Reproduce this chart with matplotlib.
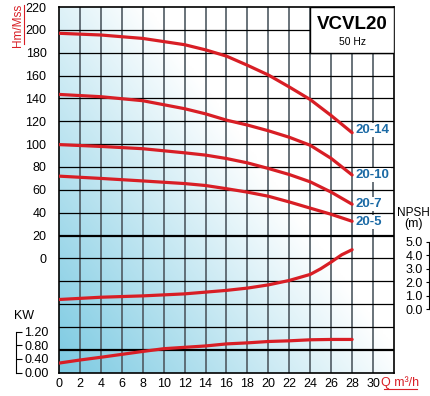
import numpy as np
import matplotlib.pyplot as plt
from matplotlib.patches import Rectangle
from matplotlib.lines import Line2D
from matplotlib.colors import to_rgb

plt.rcParams['font.family'] = ['Liberation Sans', 'DejaVu Sans']

# head curves (Q m3/h -> H m)
q_head = [0, 4, 8, 12, 14, 16, 18, 20, 22, 24, 26, 28]
h_20_14 = [197, 195.5, 192.5, 187, 182.5, 177, 169, 160.5, 150, 139, 125, 110]
h_20_10 = [143.5, 141.5, 138, 131, 126.5, 121, 116.7, 111.7, 106, 99, 87.5, 73]
h_20_7 = [99.6, 98, 96, 92.4, 90.4, 87.4, 83.6, 78.7, 73.4, 67, 58, 47.4]
h_20_5 = [72, 70, 67.8, 65.5, 63.8, 61, 58, 54.4, 49.4, 44, 38.6, 32.5]
models = ['20-14', '20-10', '20-7', '20-5']
label_y = [112, 73, 48, 31.5]

# NPSH curve (m)
q_npsh = [0, 4, 8, 12, 14, 16, 18, 20, 22, 24, 25, 26, 27, 28]
npsh = [0.71, 0.88, 0.98, 1.13, 1.26, 1.39, 1.56, 1.80, 2.13, 2.58, 3.0, 3.5, 4.04, 4.42]

# power curve (kW)
q_kw = [0, 2, 4, 8, 10, 12, 14, 16, 18, 20, 22, 24, 26, 28]
kw = [0.28, 0.37, 0.45, 0.62, 0.70, 0.74, 0.78, 0.84, 0.87, 0.91, 0.93, 0.96, 0.97, 0.97]

x_ticks = list(range(0, 31, 2))
y_ticks = list(range(0, 221, 20))

red = '#d81e25'
blue_txt = '#1b6aa5'

fig = plt.figure(figsize=(4.31, 3.96), dpi=100)
rect = [59/431, (396-372.7)/396, 335/431, 365.7/396]
ax = fig.add_axes(rect)

# background gradient
U, V = np.meshgrid(np.linspace(0, 1, 200), np.linspace(0, 1, 200))
s = np.clip(1 - 0.95*U - 0.75*V, 0, 1)
blue = np.array(to_rgb('#7ccae2'))
img = 1 - s[..., None]*(1 - blue)
ax.imshow(img, extent=(0, 32, -100, 220), origin='lower', aspect='auto',
          zorder=0, interpolation='bilinear')

# grid
for x in range(2, 32, 2):
    ax.axvline(x, color='#4f5a62', lw=1.2, zorder=1)
for y in range(-80, 220, 20):
    lw = 1.6 if y in (20, -80) else 0.9
    ax.axhline(y, color='black', lw=lw, zorder=1)

ax.set_xlim(0, 32)
ax.set_ylim(-100, 220)
ax.set_xticks(x_ticks)
ax.set_yticks(y_ticks)
ax.tick_params(length=0, labelsize=9)
ax.tick_params(axis='y', pad=9)
ax.tick_params(axis='x', pad=4)
for sp in ax.spines.values():
    sp.set_linewidth(1.2)

# title box
ax.add_patch(Rectangle((24, 180), 8, 40, facecolor='white', edgecolor='black',
                       lw=1.0, zorder=3))
ax.text(28, 205, 'VCVL20', fontsize=13.5, fontweight='bold', ha='center',
        va='center', zorder=5)
ax.text(28, 189.5, '50 Hz', fontsize=7.5, ha='center', va='center', zorder=5)

for h in [h_20_14, h_20_10, h_20_7, h_20_5]:
    ax.plot(q_head, h, color=red, lw=2.3, zorder=4, solid_capstyle='round')
for name, ly in zip(models, label_y):
    ax.text(28.35, ly, name, color=blue_txt, fontsize=9.5, fontweight='bold',
            ha='left', va='center', zorder=5,
            bbox=dict(facecolor='white', edgecolor='none', pad=0.8))

# NPSH axis
npsh_zero, npsh_scale = -44.3, 11.75
ax_n = fig.add_axes(rect, sharex=ax)
ax_n.patch.set_visible(False)
ax_n.set_ylim((-100 - npsh_zero)/npsh_scale, (220 - npsh_zero)/npsh_scale)
ax_n.plot(q_npsh, npsh, color=red, lw=2.3, solid_capstyle='round')
for k in ['top', 'bottom', 'right']:
    ax_n.spines[k].set_visible(False)
ax_n.spines['left'].set_position(('axes', (429-59)/335))
ax_n.spines['left'].set_bounds(0, 5)
ax_n.set_yticks([0, 1, 2, 3, 4, 5])
ax_n.set_yticklabels(['0.0', '1.0', '2.0', '3.0', '4.0', '5.0'])
ax_n.tick_params(axis='y', direction='inout', length=5, pad=2, labelsize=9)
ax_n.tick_params(axis='x', bottom=False, labelbottom=False)

# kW axis
ax_k = fig.add_axes(rect, sharex=ax)
ax_k.patch.set_visible(False)
ax_k.set_ylim(0, 320/30)
ax_k.plot(q_kw, kw, color=red, lw=2.3, solid_capstyle='round')
for k in ['top', 'bottom', 'left']:
    ax_k.spines[k].set_visible(False)
ax_k.yaxis.tick_right()
ax_k.spines['right'].set_position(('axes', (16-59)/335))
ax_k.spines['right'].set_bounds(0, 1.2)
ax_k.set_yticks([0, 0.4, 0.8, 1.2])
ax_k.set_yticklabels(['0.00', '0.40', '0.80', '1.20'])
ax_k.tick_params(axis='y', direction='out', length=4, pad=2, labelsize=9)
ax_k.tick_params(axis='x', bottom=False, labelbottom=False)

# axis titles
fig.text(18/431, 1 - 25/396, 'Hm/Mss', color=red, rotation=90, fontsize=8.5,
         ha='center', va='center')
fig.add_artist(Line2D([24.5/431, 24.5/431], [1 - 5/396, 1 - 44/396],
                      color=red, lw=0.8))
fig.text(400/431, 1 - 383/396, 'Q m³/h', color=red, fontsize=9,
         ha='center', va='center')
fig.add_artist(Line2D([384/431, 417/431], [1 - 389/396, 1 - 389/396],
                      color=red, lw=0.8))
fig.text(24/431, 1 - 316/396, 'KW', fontsize=9, ha='center', va='center')
fig.text(430/431, 1 - 213/396, 'NPSH', fontsize=8.5, ha='right', va='center')
fig.text(414/431, 1 - 224/396, '(m)', fontsize=9, ha='center', va='center')

fig.savefig('out.png', dpi=100)
